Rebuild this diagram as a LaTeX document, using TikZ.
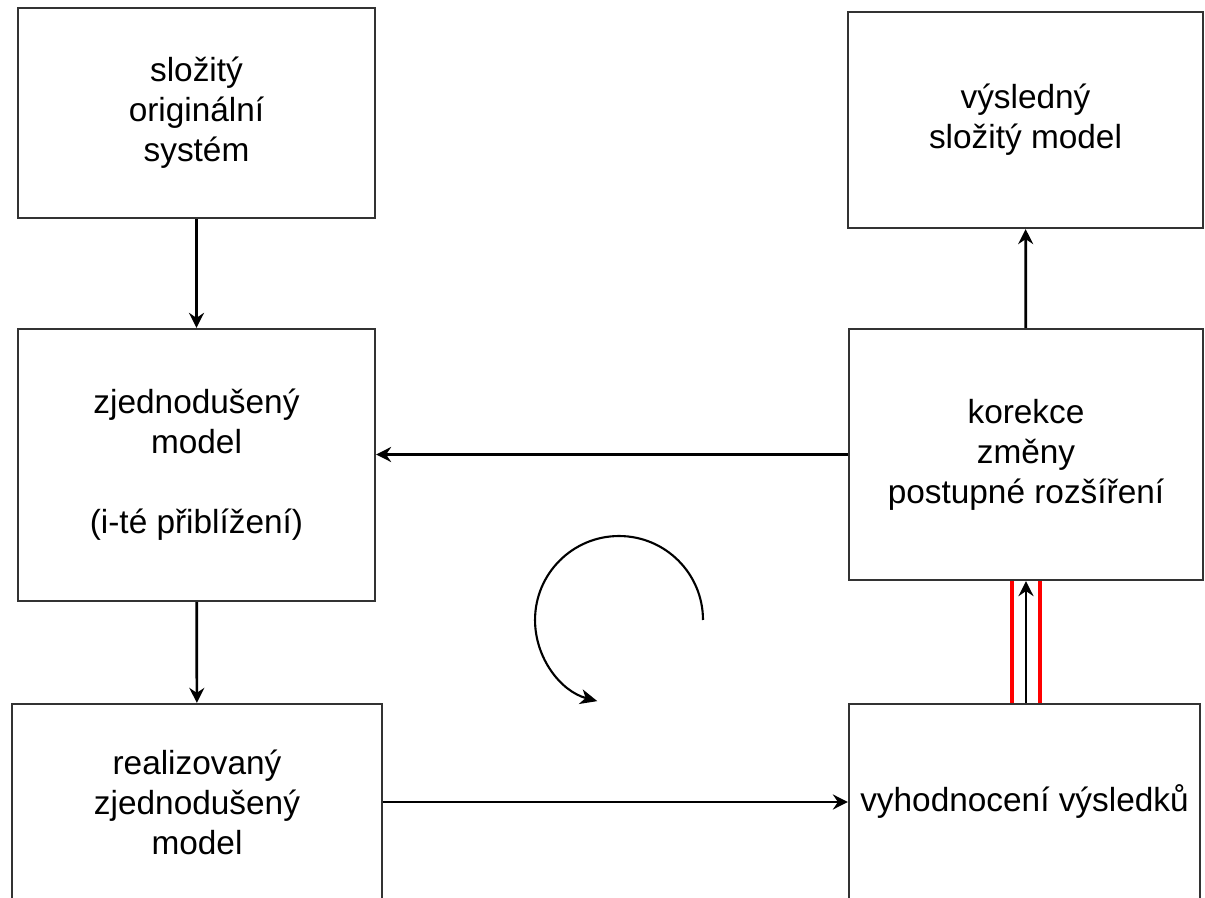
\documentclass[tikz,border=0pt]{standalone}
\usepackage{fontspec}
\setmainfont{Liberation Sans}
\usetikzlibrary{arrows.meta}
\usetikzlibrary{calc}

\begin{document}
\begin{tikzpicture}[
            > = {Stealth[length=3mm, width=3mm, inset=1mm]}, % arrow head style
            x = 0.02cm, y = -0.02cm, % pixel grid of the sketch
            line width = 1.5pt, % line style
            font = \fontsize{19}{22.8}\selectfont
        ]

        \tikzstyle{box}=[
            draw = black!80,
            line width = 1.3pt,
            rectangle,
            align = center,
            inner sep = 0pt
        ]

        \tikzstyle{rail}=[
            draw = red,
            line width = 2.6pt
        ]

        \useasboundingbox (0,0) rectangle (1205,898);

        % left column
        \node[box, minimum width=7.14cm, minimum height=4.2cm] (S) at (196.5,113) {složitý\\originální\\systém};
        \node[box, minimum width=7.14cm, minimum height=5.44cm] (Z) at (196.5,465) {zjednodušený\\model\\[22.8pt](i-té přiblížení)};
        \node[box, minimum width=7.4cm, minimum height=3.92cm] (R) at (197,802) {realizovaný\\zjednodušený\\model};

        \path[->] (S) edge node {} (Z);
        \path[->] (Z) edge node {} (R);

        % right column
        \node[box, minimum width=7.1cm, minimum height=4.32cm] (VM) at (1025.5,120) {výsledný\\složitý model};
        \node[box, minimum width=7.08cm, minimum height=5.02cm] (K) at (1026,454.5) {korekce\\změny\\postupné rozšíření};
        \node[box, minimum width=7.02cm, minimum height=3.92cm] (V) at (1024.5,802) {vyhodnocení výsledků};

        \path[->] (K) edge node {} (VM);
        \path[->] (R) edge node {} (V);
        \draw[->] (K.west) -- (K.west -| Z.east);

        % feedback with red rails
        \draw[rail] ([xshift=-0.28cm]K.south) -- ([xshift=-0.28cm]K.south |- V.north);
        \draw[rail] ([xshift=0.28cm]K.south) -- ([xshift=0.28cm]K.south |- V.north);
        \draw[->] (K.south |- V.north) -- (K.south);

        % iteration
        \coordinate (C) at (619,620);
        \draw[->, line width=1.2pt, >={Stealth[length=3.4mm, width=3mm, inset=1mm]}] ($(C)+(84,0)$) arc[start angle=0, end angle=255, radius=1.68cm];

\end{tikzpicture}
\end{document}
